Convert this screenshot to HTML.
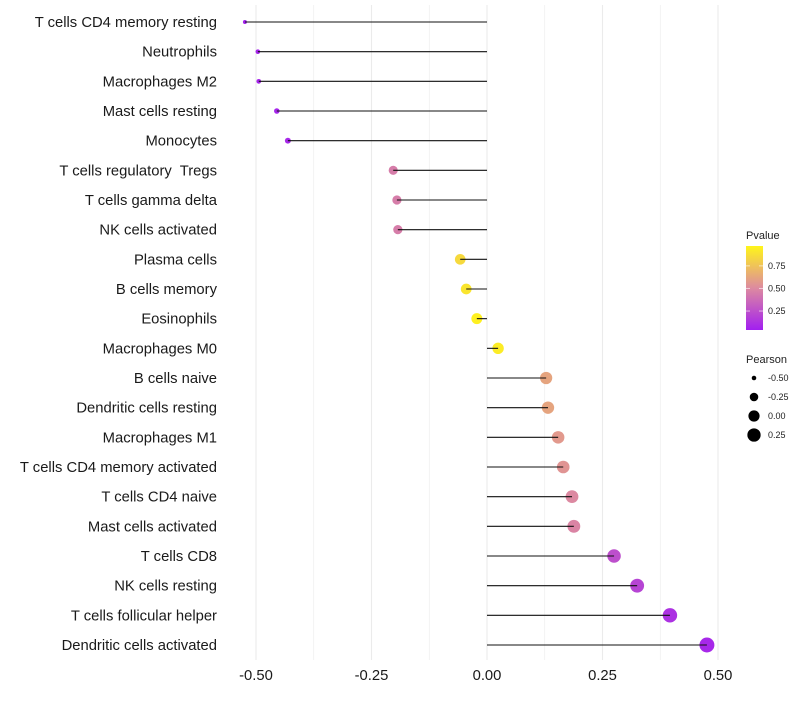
<!DOCTYPE html>
<html><head><meta charset="utf-8"><style>
body{margin:0;background:#fff;font-family:"Liberation Sans",sans-serif}
</style></head><body>
<svg id="chart" width="800" height="700" xmlns="http://www.w3.org/2000/svg" style="font-family:'Liberation Sans',sans-serif">
<defs><linearGradient id="pg" x1="0" y1="1" x2="0" y2="0">
<stop offset="0" stop-color="#a21ff0"/><stop offset="0.5" stop-color="#dd8aa0"/><stop offset="1" stop-color="#fff51a"/>
</linearGradient></defs>
<g id="grid"></g>
<g id="marks"></g>
<g id="ylabels"></g>
<g id="xlabels"></g>
<g>
<text x="746" y="239" font-size="11" fill="#222">Pvalue</text>
<rect x="746" y="246" width="17" height="84" fill="url(#pg)"/>
<g id="pticks"></g>
</g>
<g id="slegend">
<text x="746" y="363" font-size="11" fill="#222">Pearson</text>
</g>
</svg>
<script>
const categories=["T cells CD4 memory resting","Neutrophils","Macrophages M2","Mast cells resting","Monocytes","T cells regulatory  Tregs","T cells gamma delta","NK cells activated","Plasma cells","B cells memory","Eosinophils","Macrophages M0","B cells naive","Dendritic cells resting","Macrophages M1","T cells CD4 memory activated","T cells CD4 naive","Mast cells activated","T cells CD8","NK cells resting","T cells follicular helper","Dendritic cells activated"];
const pearson=[-0.524,-0.496,-0.494,-0.455,-0.431,-0.203,-0.195,-0.193,-0.058,-0.045,-0.022,0.024,0.128,0.132,0.154,0.165,0.184,0.188,0.275,0.325,0.396,0.476];
const pvalue=[0.05,0.07,0.07,0.07,0.08,0.45,0.45,0.45,0.85,0.9,0.95,0.93,0.62,0.62,0.57,0.55,0.5,0.48,0.25,0.2,0.12,0.08];
const xTicks=[-0.5,-0.25,0,0.25,0.5];
const xTickLabels=["-0.50","-0.25","0.00","0.25","0.50"];
const pTicks=[0.25,0.5,0.75];
const pTickLabels=["0.25","0.50","0.75"];
const sizeTicks=[-0.5,-0.25,0,0.25];
const sizeTickLabels=["-0.50","-0.25","0.00","0.25"];

const NS="http://www.w3.org/2000/svg";
const x=v=>487+v*462;
const y=i=>22+i*(623/21);
const pmin=0.04,pmax=0.97;
const py=p=>330-(p-pmin)/(pmax-pmin)*84;
const minV=Math.min(...pearson),maxV=Math.max(...pearson);
const r=v=>Math.sqrt(Math.max(3,4+(56-4)*(v-minV)/(maxV-minV)));
function mix(a,b,t){return a.map((c,i)=>Math.round(c+(b[i]-c)*t));}
function col(p){const t=Math.max(0,Math.min(1,(p-pmin)/(pmax-pmin)));
const A=[162,31,240],B=[221,138,160],C=[255,245,26];
const c=t<0.5?mix(A,B,t/0.5):mix(B,C,(t-0.5)/0.5);return `rgb(${c})`;}
function el(tag,attrs,parent){const e=document.createElementNS(NS,tag);for(const k in attrs)e.setAttribute(k,attrs[k]);parent.appendChild(e);return e;}
const grid=document.getElementById('grid'),marks=document.getElementById('marks'),yl=document.getElementById('ylabels'),xl=document.getElementById('xlabels');
for(let v=-0.5;v<=0.501;v+=0.125){const g=el('line',{x1:x(v),x2:x(v),y1:5,y2:660,stroke:'#ebebeb','stroke-width':Math.abs(v*4-Math.round(v*4))<1e-6?1.1:0.6},grid);
}
categories.forEach((c,i)=>{
 const t=el('text',{x:217,y:y(i)+5,'text-anchor':'end','font-size':14.8,fill:'#1a1a1a',style:'white-space:pre'},yl);t.textContent=c;
 
 const d=el('circle',{cx:x(pearson[i]),cy:y(i),r:r(pearson[i]),fill:col(pvalue[i])},marks);
 
 const l=el('line',{x1:x(0),x2:x(pearson[i]),y1:y(i),y2:y(i),stroke:'#111','stroke-width':1.1},marks);
 
});
xTicks.forEach((v,i)=>{const t=el('text',{x:x(v),y:680,'text-anchor':'middle','font-size':14.8,fill:'#1a1a1a'},xl);t.textContent=xTickLabels[i];
});
const pt=document.getElementById('pticks');
pTicks.forEach((p,i)=>{el('line',{x1:746,x2:750,y1:py(p),y2:py(p),stroke:'#fff','stroke-opacity':0.6},pt);el('line',{x1:759,x2:763,y1:py(p),y2:py(p),stroke:'#fff','stroke-opacity':0.6},pt);
const t=el('text',{x:768,y:py(p)+3,'font-size':9,fill:'#222'},pt);t.textContent=pTickLabels[i];
});
const sl=document.getElementById('slegend');
sizeTicks.forEach((v,i)=>{const yy=378+i*19;const c=el('circle',{cx:754,cy:yy,r:r(v),fill:'#000'},sl);

const t=el('text',{x:768,y:yy+3,'font-size':9,fill:'#222'},sl);t.textContent=sizeTickLabels[i];
});
</script>
</body></html>
